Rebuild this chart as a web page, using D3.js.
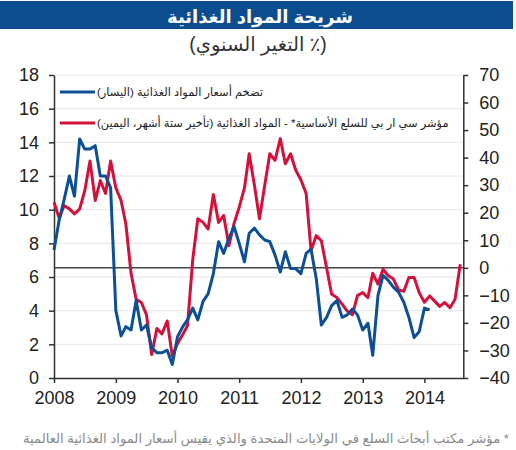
<!DOCTYPE html>
<html><head><meta charset="utf-8">
<script src="https://cdn.jsdelivr.net/npm/d3@7"></script>
<style>
body{margin:0;background:#fff;}
svg{display:block;font-family:"Liberation Sans",Arial,"DejaVu Sans",sans-serif;}
</style></head>
<body>
<script>
const title = "شريحة المواد الغذائية";
const subtitle = "(٪ التغير السنوي)";
const legendLabels = ["تضخم أسعار المواد الغذائية (اليسار)", "مؤشر سي ار بي للسلع الأساسية* - المواد الغذائية (تأخير ستة أشهر، اليمين)"];
const footnote = "* مؤشر مكتب أبحاث السلع في الولايات المتحدة والذي يقيس أسعار المواد الغذائية العالمية";
const startMonth = [2008, 0];
const foodInflation = [7.6,9.4,10.6,12.0,10.8,14.2,13.6,13.6,13.8,12.0,12.0,11.3,
  4.0,2.5,3.05,2.85,4.6,2.85,3.15,1.8,1.5,1.5,1.65,0.8,
  2.45,3.05,3.45,4.15,3.45,4.55,5.0,6.2,8.1,7.4,8.3,9.0,
  8.0,6.9,8.6,8.9,8.5,8.2,8.1,7.3,6.3,7.5,6.5,6.5,
  6.2,7.4,7.65,5.9,3.15,3.6,4.3,4.6,3.6,3.75,4.1,3.75,
  2.85,3.25,1.35,4.9,6.1,5.8,5.4,5.1,4.5,3.6,2.4,2.75,
  4.15,4.05];
const crbFood = [23.8,18,22.6,21.4,19.6,21.4,28,38.8,24.4,31.7,27,38.8,
  29,24.4,16,-2,-11.4,-12.6,-17,-31.5,-22,-24,-19.3,-32,
  -27.5,-24.2,-21,3,17.8,16.5,14.1,26.6,16.5,19,8,16,
  22,29,41.4,30,17.8,30,41.4,39,46.9,37.8,41.4,35.5,
  32,27,6.2,11.7,9.8,0,-9.6,-10.8,-13.2,-15.7,-17,-10,
  -9,-10.8,-2,-5.9,-0.5,-2.9,-4,-8,-8.5,-3.5,-3.5,-9,
  -12.5,-10.2,-12,-14,-12.6,-14.5,-11.5,1.3];
const yearTicks = [2008,2009,2010,2011,2012,2013,2014];
const leftTicks = [0,2,4,6,8,10,12,14,16,18];
const rightTicks = [-40,-30,-20,-10,0,10,20,30,40,50,60,70];
const colors = {blue:"#0e4f94", red:"#d3123c", banner:"#0b4d8f"};

const W=516,H=450;
const svg=d3.select("body").append("svg").attr("width",W).attr("height",H);
const L=54,R=463.3,T=75,B=378;
const x=d3.scaleTime().domain([new Date(2008,0,1),new Date(2014,7,19)]).range([L,R]);
const yL=d3.scaleLinear().domain([0,18]).range([B,T]);
const yR=d3.scaleLinear().domain([-40,70]).range([B,T]);
const dateOf=i=>new Date(startMonth[0],startMonth[1]+i,1);

// banner
svg.append("rect").attr("x",0).attr("y",1).attr("width",513).attr("height",28).attr("fill",colors.banner);
svg.append("text").attr("x",260).attr("y",23).attr("text-anchor","middle").attr("fill","#fff")
  .attr("font-size",18).attr("font-weight","bold").attr("direction","rtl").text(title);
svg.append("text").attr("x",258).attr("y",51).attr("text-anchor","middle").attr("fill","#333")
  .attr("font-size",19.5).attr("direction","rtl").text(subtitle);

// grid
svg.append("g").selectAll("line").data(leftTicks.filter(d=>d>0)).join("line")
  .attr("x1",L).attr("x2",R).attr("y1",d=>yL(d)).attr("y2",d=>yL(d))
  .attr("stroke","#e6e6e6").attr("stroke-width",1);

// zero line of right axis
svg.append("line").attr("x1",L).attr("x2",R).attr("y1",yR(0)).attr("y2",yR(0))
  .attr("stroke","#444").attr("stroke-width",1.5);

// axes
const axL=d3.axisLeft(yL).tickValues(leftTicks).tickSize(5).tickPadding(10).tickSizeOuter(0);
const gL=svg.append("g").attr("transform",`translate(${L},0)`).call(axL);
const axR=d3.axisRight(yR).tickValues(rightTicks).tickSize(5).tickPadding(11).tickSizeOuter(0);
const gR=svg.append("g").attr("transform",`translate(${R},0)`).call(axR);
const axB=d3.axisBottom(x).tickValues(yearTicks.map(y=>new Date(y,0,1))).tickFormat(d3.timeFormat("%Y")).tickSize(5).tickPadding(8).tickSizeOuter(0);
const gB=svg.append("g").attr("transform",`translate(0,${B})`).call(axB);
[gL,gR,gB].forEach(g=>{
  g.selectAll("path").attr("stroke","#333").attr("stroke-width",1.5);
  g.selectAll("line").attr("stroke","#333").attr("stroke-width",1.5);
  g.selectAll("text").attr("font-size",18).attr("fill","#222").attr("font-family","Liberation Sans, Arial, sans-serif");
});

// lines
const lineL=d3.line().x((d,i)=>x(dateOf(i))).y(d=>yL(d));
const lineR=d3.line().x((d,i)=>x(dateOf(i))).y(d=>yR(d));
svg.append("path").datum(crbFood).attr("d",lineR).attr("fill","none").attr("stroke",colors.red).attr("stroke-width",3).attr("stroke-linejoin","round");
svg.append("path").datum(foodInflation).attr("d",lineL).attr("fill","none").attr("stroke",colors.blue).attr("stroke-width",3).attr("stroke-linejoin","round");

// legend
const lg=svg.append("g");
[[colors.blue,92,0],[colors.red,123,1]].forEach(([c,yy,i])=>{
  lg.append("line").attr("x1",60).attr("x2",95).attr("y1",yy).attr("y2",yy).attr("stroke",c).attr("stroke-width",3);
  lg.append("text").attr("x",97).attr("y",yy+4).attr("font-size",11.4).attr("fill","#222")
    .attr("direction","rtl").attr("text-anchor","end").text(legendLabels[i]);
});

// footnote
svg.append("text").attr("x",509).attr("y",443).attr("text-anchor","start").attr("direction","rtl")
  .attr("font-size",13.2).attr("fill","#8a8a8a").text(footnote);
</script>
</body></html>
